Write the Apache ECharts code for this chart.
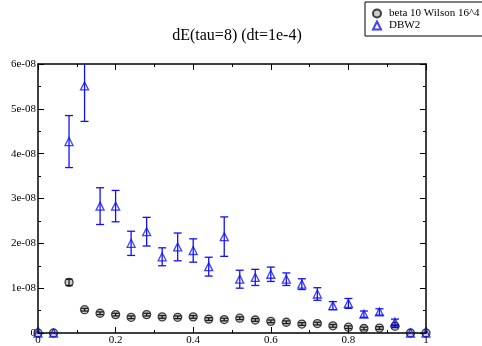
<!DOCTYPE html>
<html>
<head>
<meta charset="utf-8">
<script src="https://cdn.jsdelivr.net/npm/echarts@6/dist/echarts.min.js"></script>
<style>html,body{margin:0;padding:0;background:#fff}#c{width:482px;height:346px}</style>
</head>
<body>
<div id="c"></div>
<script>
const xValues = [0,0.04,0.08,0.12,0.16,0.20,0.24,0.28,0.32,0.36,0.40,0.44,0.48,0.52,0.56,0.60,0.64,0.68,0.72,0.76,0.80,0.84,0.88,0.92,0.96,1.0];
const wilsonVals = [0,0,1.13e-8,0.52e-8,0.44e-8,0.41e-8,0.35e-8,0.41e-8,0.36e-8,0.35e-8,0.36e-8,0.31e-8,0.30e-8,0.33e-8,0.29e-8,0.26e-8,0.24e-8,0.20e-8,0.21e-8,0.16e-8,0.13e-8,0.10e-8,0.11e-8,0.15e-8,0,0];
const wilsonErr  = [0,0,0.07e-8,0.03e-8,0.03e-8,0.03e-8,0.03e-8,0.03e-8,0.03e-8,0.03e-8,0.03e-8,0.03e-8,0.03e-8,0.03e-8,0.03e-8,0.03e-8,0.03e-8,0.03e-8,0.03e-8,0.03e-8,0.03e-8,0.03e-8,0.03e-8,0.03e-8,0,0];
const dbw2Vals = [0,0,4.27e-8,5.51e-8,2.83e-8,2.83e-8,2.00e-8,2.26e-8,1.70e-8,1.92e-8,1.84e-8,1.48e-8,2.15e-8,1.20e-8,1.24e-8,1.31e-8,1.20e-8,1.09e-8,0.87e-8,0.61e-8,0.66e-8,0.42e-8,0.47e-8,0.24e-8,0,0];
const dbw2Err  = [0,0,0.58e-8,0.79e-8,0.41e-8,0.35e-8,0.27e-8,0.32e-8,0.20e-8,0.31e-8,0.26e-8,0.21e-8,0.44e-8,0.20e-8,0.18e-8,0.16e-8,0.14e-8,0.12e-8,0.14e-8,0.09e-8,0.11e-8,0.07e-8,0.07e-8,0.07e-8,0,0];
const yTickLabels = ['0','1e-08','2e-08','3e-08','4e-08','5e-08','6e-08'];
const xTickLabels = ['0','0.2','0.4','0.6','0.8','1'];
const titleText = 'dE(tau=8) (dt=1e-4)';
const seriesNames = ['beta 10 Wilson 16^4','DBW2'];

const FONT = 'Liberation Serif';
const BLUE = '#1010ff';

function pts(vals){ return xValues.map((x,i)=>[x, vals[i]]); }
function errData(vals, errs){ return xValues.map((x,i)=>[x, vals[i]-errs[i], vals[i]+errs[i]]).filter(d=>d[2]>d[1]); }

function errRender(color, capHalf){
  return function(params, api){
    const x = api.value(0);
    const lo = api.coord([x, api.value(1)]);
    const hi = api.coord([x, api.value(2)]);
    const style = {stroke: color, lineWidth: 1.3, fill: null};
    return {type:'group', children:[
      {type:'line', shape:{x1:lo[0],y1:lo[1],x2:hi[0],y2:hi[1]}, style},
      {type:'line', shape:{x1:lo[0]-capHalf,y1:lo[1],x2:lo[0]+capHalf,y2:lo[1]}, style},
      {type:'line', shape:{x1:hi[0]-capHalf,y1:hi[1],x2:hi[0]+capHalf,y2:hi[1]}, style}
    ]};
  };
}

const chart = echarts.init(document.getElementById('c'), null, {renderer:'canvas'});
const axisLine = {show:true, onZero:false, lineStyle:{color:'#000', width:1.5}};
const tickStyle = {color:'#000', width:1};
function mkX(pos, showLabel){
  return {type:'value', min:0, max:1, interval:0.2, position:pos,
    axisLine, splitLine:{show:false},
    axisTick:{inside:true, length:6, lineStyle:tickStyle},
    minorTick:{show:true, splitNumber:2, length:3, lineStyle:tickStyle},
    axisLabel:{show:showLabel, fontFamily:FONT, fontSize:11, color:'#000', margin:2,
      formatter:(v)=>xTickLabels[Math.round(v/0.2)]}};
}
function mkY(pos, showLabel){
  return {type:'value', min:0, max:6e-8, interval:1e-8, position:pos,
    axisLine, splitLine:{show:false},
    axisTick:{inside:true, length:6, lineStyle:tickStyle},
    minorTick:{show:true, splitNumber:2, length:3, lineStyle:tickStyle},
    axisLabel:{show:showLabel, fontFamily:FONT, fontSize:11, color:'#000', margin:2,
      formatter:(v)=>yTickLabels[Math.round(v/1e-8)]}};
}
chart.setOption({
  animation:false,
  backgroundColor:'#fff',
  title:{text:titleText, left:232, top:23, textAlign:'center',
    textStyle:{fontFamily:FONT, fontSize:16, fontWeight:'normal', color:'#000'}},
  legend:{
    data:[{name:seriesNames[0], icon:'circle'},{name:seriesNames[1], icon:'triangle'}],
    orient:'vertical', left:365, top:2, itemWidth:8, itemHeight:8, itemGap:1,
    padding:[6,40,5,7], borderColor:'#000', borderWidth:1, backgroundColor:'#fff',
    textStyle:{fontFamily:FONT, fontSize:11, color:'#000', padding:[0,0,0,3]}
  },
  grid:{left:38, right:56, top:64, bottom:12},
  xAxis:[mkX('bottom', true), mkX('top', false)],
  yAxis:[mkY('left', true), mkY('right', false)],
  series:[
    {type:'custom', name:'wilsonErr', xAxisIndex:0, yAxisIndex:0, clip:true,
      renderItem:errRender('#222', 3.5), data:errData(wilsonVals, wilsonErr), z:3},
    {type:'custom', name:'dbw2Err', xAxisIndex:0, yAxisIndex:0, clip:true,
      renderItem:errRender(BLUE, 4), data:errData(dbw2Vals, dbw2Err), z:3},
    {type:'scatter', name:seriesNames[0], symbol:'circle', symbolSize:8,
      itemStyle:{color:'rgba(0,0,0,0.25)', borderColor:'#111', borderWidth:1.3},
      data:pts(wilsonVals), z:4},
    {type:'scatter', name:seriesNames[1], symbol:'triangle', symbolSize:8,
      itemStyle:{color:'rgba(0,0,0,0)', borderColor:BLUE, borderWidth:1.3},
      data:pts(dbw2Vals), z:5}
  ]
});
</script>
</body>
</html>
